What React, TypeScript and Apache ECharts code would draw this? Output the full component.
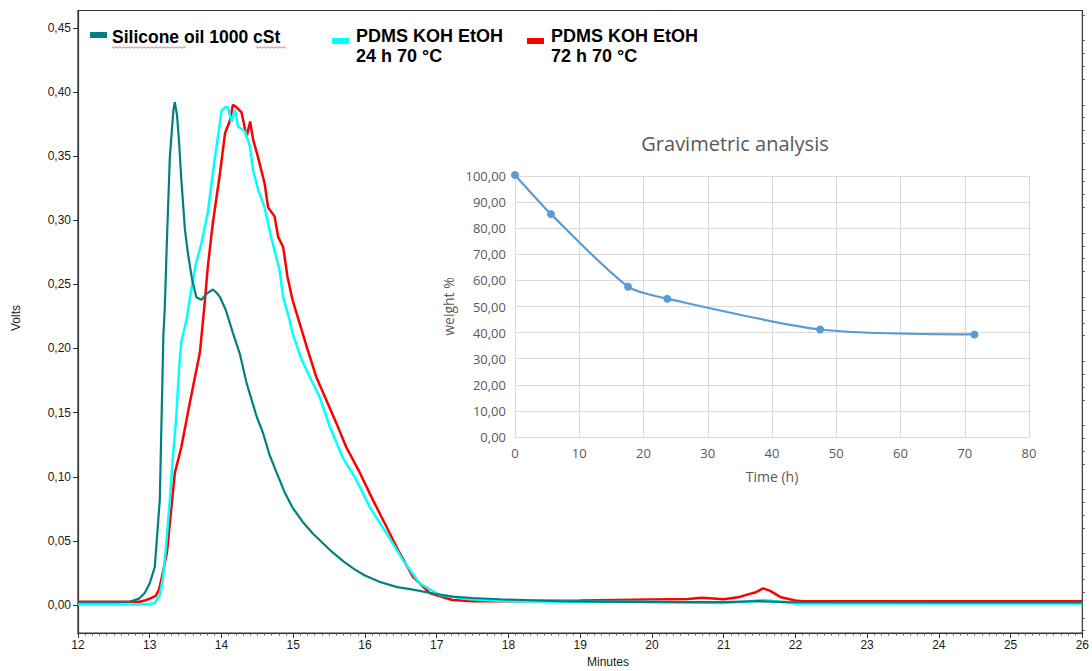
import React, { useEffect, useRef } from "react";
import * as echarts from "echarts";

// ---- Main chromatogram data: [minutes, volts] ----
const siliconeOil: number[][] = [
  [12.0, 0.0023], [12.5, 0.0023], [12.72, 0.0025], [12.85, 0.005], [12.93, 0.0094], [13.0, 0.017],
  [13.07, 0.0296], [13.14, 0.082], [13.19, 0.21], [13.21, 0.232], [13.24, 0.285], [13.28, 0.349],
  [13.33, 0.386], [13.35, 0.392], [13.38, 0.382], [13.41, 0.36], [13.44, 0.332], [13.49, 0.293],
  [13.53, 0.275], [13.59, 0.254], [13.65, 0.24], [13.72, 0.238], [13.8, 0.243], [13.88, 0.246],
  [13.94, 0.243], [13.98, 0.24], [14.06, 0.23], [14.16, 0.212], [14.26, 0.195], [14.35, 0.173],
  [14.49, 0.147], [14.58, 0.134], [14.67, 0.117], [14.77, 0.103], [14.88, 0.088], [14.99, 0.076],
  [15.13, 0.065], [15.27, 0.056], [15.4, 0.049], [15.55, 0.041], [15.7, 0.034], [15.85, 0.028],
  [16.0, 0.023], [16.21, 0.018], [16.45, 0.014], [16.67, 0.012], [16.95, 0.009], [17.22, 0.0065],
  [17.5, 0.0055], [17.88, 0.0045], [18.71, 0.0031], [19.97, 0.0023], [21.0, 0.0022],
  [21.5, 0.003], [21.9, 0.0022], [26.0, 0.0021],
];

const kohEtoh24h: number[][] = [
  [12.0, 0.0005], [12.86, 0.0005], [13.0, 0.0008], [13.07, 0.0016], [13.14, 0.0078], [13.18, 0.0195],
  [13.23, 0.047], [13.28, 0.082], [13.32, 0.113], [13.37, 0.147], [13.41, 0.185], [13.44, 0.205],
  [13.51, 0.222], [13.58, 0.246], [13.64, 0.265], [13.72, 0.282], [13.81, 0.306], [13.88, 0.337],
  [13.95, 0.365], [14.0, 0.385], [14.05, 0.388], [14.09, 0.388], [14.14, 0.377], [14.19, 0.386],
  [14.23, 0.373], [14.33, 0.369], [14.4, 0.357], [14.44, 0.339], [14.51, 0.324], [14.6, 0.31],
  [14.7, 0.285], [14.81, 0.261], [14.86, 0.24], [14.95, 0.222], [14.99, 0.212], [15.12, 0.191],
  [15.23, 0.178], [15.37, 0.162], [15.51, 0.139], [15.69, 0.115], [15.88, 0.0975], [16.07, 0.076],
  [16.3, 0.056], [16.53, 0.035], [16.76, 0.017], [17.04, 0.0078], [17.46, 0.0045], [18.0, 0.003],
  [19.0, 0.0025], [20.0, 0.0025], [20.5, 0.002], [21.0, 0.0015], [21.3, 0.0025], [21.55, 0.004],
  [21.8, 0.0025], [22.0, 0.0012], [26.0, 0.0012],
];

const kohEtoh72h: number[][] = [
  [12.0, 0.0025], [12.86, 0.0025], [12.93, 0.0035], [13.0, 0.005], [13.08, 0.007], [13.13, 0.012],
  [13.17, 0.022], [13.24, 0.041], [13.3, 0.075], [13.35, 0.103], [13.44, 0.123], [13.56, 0.158],
  [13.7, 0.197], [13.77, 0.238], [13.81, 0.264], [13.88, 0.298], [13.98, 0.337], [14.05, 0.368],
  [14.12, 0.378], [14.16, 0.39], [14.21, 0.388], [14.28, 0.384], [14.35, 0.365], [14.4, 0.377],
  [14.44, 0.363], [14.51, 0.349], [14.6, 0.329], [14.65, 0.31], [14.74, 0.303], [14.79, 0.287],
  [14.86, 0.279], [14.92, 0.256], [14.99, 0.238], [15.19, 0.201], [15.32, 0.178], [15.6, 0.142],
  [15.74, 0.123], [15.93, 0.103], [16.11, 0.082], [16.3, 0.061], [16.48, 0.041], [16.67, 0.022],
  [16.9, 0.0094], [17.22, 0.0039], [17.5, 0.003], [18.0, 0.003], [19.0, 0.0035], [20.0, 0.0044],
  [20.5, 0.0048], [20.7, 0.0057], [21.0, 0.0045], [21.2, 0.006], [21.35, 0.0085], [21.45, 0.01],
  [21.55, 0.013], [21.65, 0.011], [21.8, 0.006], [22.0, 0.0035], [22.1, 0.003], [26.0, 0.003],
];

const yMajorTicks = [0, 0.05, 0.1, 0.15, 0.2, 0.25, 0.3, 0.35, 0.4, 0.45];
const yMinorTicks = [
  -0.02, -0.01, 0.01, 0.02, 0.03, 0.04, 0.06, 0.07, 0.08, 0.09, 0.11, 0.12, 0.13, 0.14, 0.16, 0.17,
  0.18, 0.19, 0.21, 0.22, 0.23, 0.24, 0.26, 0.27, 0.28, 0.29, 0.31, 0.32, 0.33, 0.34, 0.36, 0.37,
  0.38, 0.39, 0.41, 0.42, 0.43, 0.44, 0.46,
];

// ---- Inset: gravimetric analysis ----
const gravTime = [0, 5.6, 17.6, 23.7, 47.5, 71.5];
const gravWeight = [100.4, 85.4, 57.6, 53.0, 41.2, 39.3];

const legendItems = [
  { name: "Silicone oil 1000 cSt", color: "#008080" },
  { name: "PDMS KOH EtOH\n24 h 70 °C", color: "#00FFFF" },
  { name: "PDMS KOH EtOH\n72 h 70 °C", color: "#FF0000" },
];

const comma = (v: number) => v.toFixed(2).replace(".", ",");

// spell-check style wavy underline (decoration under the first legend label)
function wavy(x0: number, x1: number, y: number) {
  const pts: number[][] = [];
  for (let x = x0, k = 0; x <= x1; x += 2, k++) pts.push([x, y + (k % 2 ? 1.2 : -0.2)]);
  return pts;
}

export default function App() {
  const ref = useRef<HTMLDivElement>(null);
  useEffect(() => {
    if (!ref.current) return;
    const chart = echarts.init(ref.current, undefined, { renderer: "svg" });
    const axisFont = "'Liberation Sans', Arial, sans-serif";
    const insetFont = "'Open Sans', sans-serif";
    const inkColor = "#1a1a1a";
    const insetInk = "#595959";
    const gridGray = "#d9d9d9";

    const legendX = [90, 332, 527];
    const legendGraphics: any[] = [];
    legendItems.forEach((it, i) => {
      const lines = it.name.split("\n");
      legendGraphics.push({
        type: "rect",
        shape: { x: legendX[i], y: i === 0 ? 32 : 38, width: 17, height: 6 },
        style: { fill: it.color },
      });
      lines.forEach((ln, j) => {
        legendGraphics.push({
          type: "text",
          x: legendX[i] + (i === 0 ? 22 : 24),
          y: 37 + j * 20 - (i === 0 ? 0 : 1),
          style: {
            text: ln,
            font: `bold ${i === 0 ? 17.5 : 18}px ${axisFont}`,
            fill: "#000",
            verticalAlign: "middle",
            align: "left",
          },
        });
      });
    });
    legendGraphics.push(
      { type: "polyline", shape: { points: wavy(112, 187, 47) }, style: { stroke: "#e05050", lineWidth: 0.8, fill: null } },
      { type: "polyline", shape: { points: wavy(256, 286, 47) }, style: { stroke: "#e05050", lineWidth: 0.8, fill: null } },
    );

    const mainLine = (name: string, data: number[][], color: string, width: number) => ({
      type: "line",
      name,
      xAxisIndex: 0,
      yAxisIndex: 0,
      data,
      showSymbol: false,
      smooth: false,
      lineStyle: { color, width },
      itemStyle: { color },
      z: 3,
    });

    chart.setOption({
      animation: false,
      backgroundColor: "#fff",
      grid: [
        { left: 78, right: 9, top: 10.5, bottom: 38, show: true, borderColor: "#333", borderWidth: 1.2, backgroundColor: "transparent" },
        { left: 515, right: 63, top: 176, bottom: 234 },
      ],
      xAxis: [
        {
          type: "value",
          gridIndex: 0,
          min: 12,
          max: 26,
          interval: 1,
          axisLine: { show: true, onZero: false, lineStyle: { color: "#333", width: 1.2 } },
          axisTick: { show: true, length: 5, lineStyle: { color: "#333" } },
          minorTick: { show: true, splitNumber: 10, length: 2.5, lineStyle: { color: "#555" } },
          splitLine: { show: false },
          axisLabel: { color: inkColor, fontFamily: axisFont, fontSize: 12, margin: 6 },
        },
        {
          type: "value",
          gridIndex: 1,
          min: 0,
          max: 80,
          interval: 10,
          name: "Time (h)",
          nameLocation: "middle",
          nameGap: 32,
          nameTextStyle: { color: insetInk, fontFamily: insetFont, fontSize: 14 },
          axisLine: { show: true, onZero: false, lineStyle: { color: gridGray, width: 1 } },
          axisTick: { show: false },
          splitLine: { show: true, lineStyle: { color: gridGray, width: 1 } },
          axisLabel: { color: insetInk, fontFamily: insetFont, fontSize: 13, margin: 9 },
        },
      ],
      yAxis: [
        {
          type: "value",
          gridIndex: 0,
          min: -0.0218,
          max: 0.4635,
          axisLine: { show: true, onZero: false, lineStyle: { color: "#333", width: 1.2 } },
          axisTick: { show: true, length: 5, customValues: yMajorTicks, lineStyle: { color: "#333" } },
          splitLine: { show: false },
          axisLabel: {
            customValues: yMajorTicks,
            color: inkColor,
            fontFamily: axisFont,
            fontSize: 12,
            margin: 7,
            formatter: (v: number) => comma(v),
          },
        },
        {
          type: "value",
          gridIndex: 0,
          min: -0.0218,
          max: 0.4635,
          axisLine: { show: false },
          axisTick: { show: true, length: 2.5, customValues: yMinorTicks, lineStyle: { color: "#555" } },
          splitLine: { show: false },
          axisLabel: { show: false, customValues: yMinorTicks },
        },
        {
          type: "value",
          gridIndex: 1,
          min: 0,
          max: 100,
          interval: 10,
          name: "weight %",
          nameLocation: "middle",
          nameGap: 60,
          nameRotate: 90,
          nameTextStyle: { color: insetInk, fontFamily: insetFont, fontSize: 14 },
          axisLine: { show: false },
          axisTick: { show: false },
          splitLine: { show: true, lineStyle: { color: gridGray, width: 1 } },
          axisLabel: {
            color: insetInk,
            fontFamily: insetFont,
            fontSize: 13,
            margin: 9,
            formatter: (v: number) => comma(v),
          },
        },
      ],
      series: [
        mainLine(legendItems[2].name, kohEtoh72h, "#FF0000", 2.5),
        mainLine(legendItems[1].name, kohEtoh24h, "#00FFFF", 2.5),
        mainLine(legendItems[0].name, siliconeOil, "#008080", 2.2),
        {
          type: "line",
          name: "Gravimetric analysis",
          xAxisIndex: 1,
          yAxisIndex: 2,
          data: gravTime.map((t, i) => [t, gravWeight[i]]),
          smooth: 0.25,
          clip: false,
          symbol: "circle",
          symbolSize: 8,
          showSymbol: true,
          lineStyle: { color: "#5B9BD5", width: 2.2 },
          itemStyle: { color: "#5B9BD5" },
          z: 4,
        },
      ],
      graphic: [
        ...legendGraphics,
        {
          type: "text",
          x: 16,
          y: 318,
          rotation: Math.PI / 2,
          style: { text: "Volts", font: `12px ${axisFont}`, fill: inkColor, align: "center", verticalAlign: "middle" },
        },
        {
          type: "text",
          x: 608,
          y: 662,
          style: { text: "Minutes", font: `12px ${axisFont}`, fill: inkColor, align: "center", verticalAlign: "middle" },
        },
        {
          type: "text",
          x: 735,
          y: 143,
          style: { text: "Gravimetric analysis", font: `20px ${insetFont}`, fill: insetInk, align: "center", verticalAlign: "middle" },
        },
      ],
    });
    return () => chart.dispose();
  }, []);
  return <div ref={ref} style={{ width: 1092, height: 671, position: "absolute", left: 0, top: 0 }} />;
}
